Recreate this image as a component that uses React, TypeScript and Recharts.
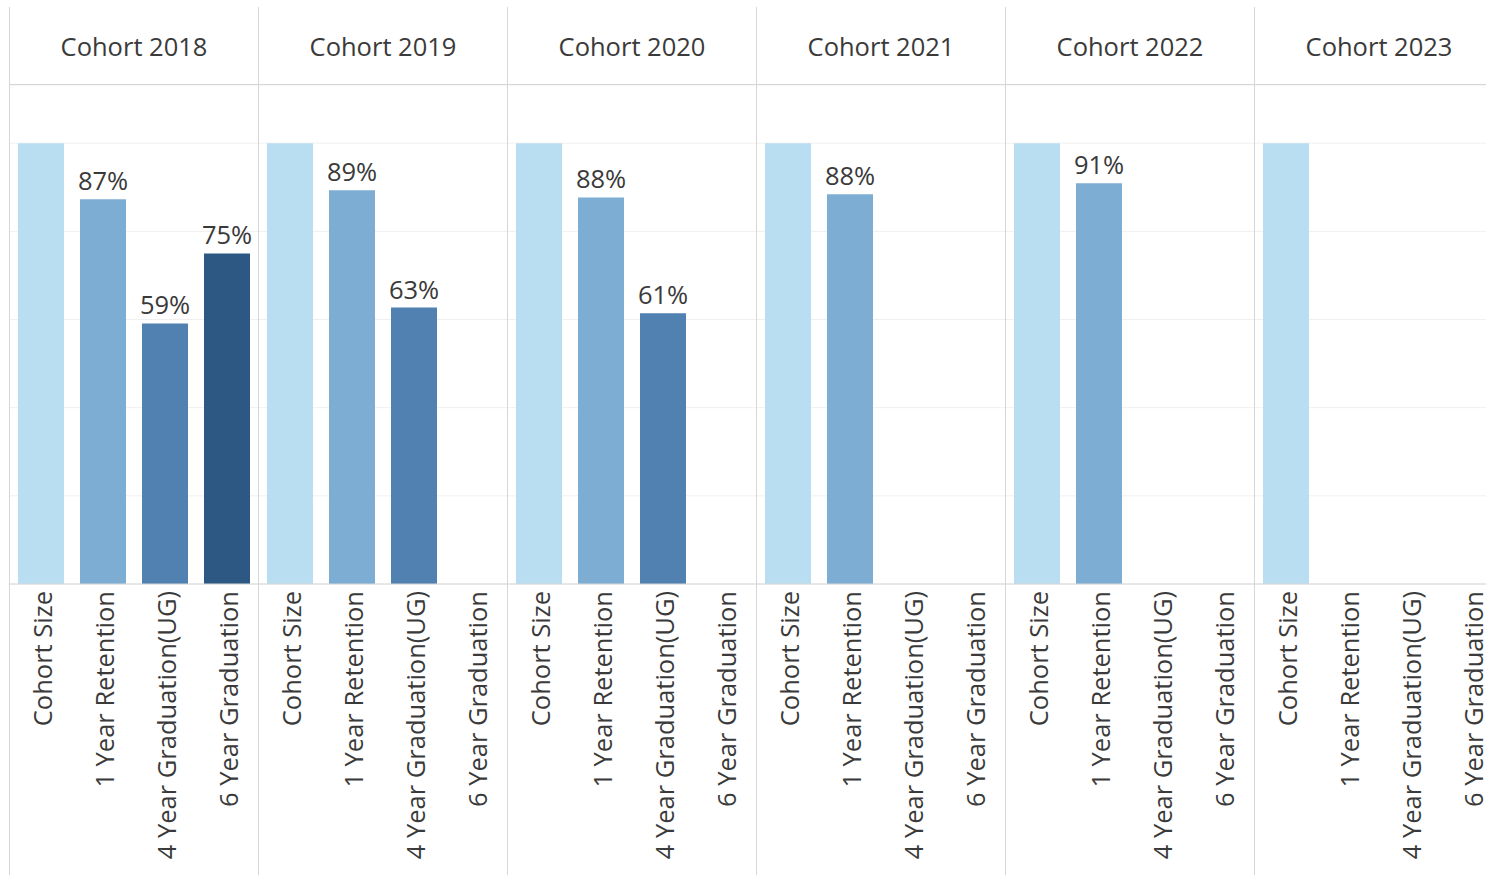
import { BarChart, Bar, XAxis, YAxis, CartesianGrid, Cell, LabelList } from "recharts";

const cohorts = ["Cohort 2018", "Cohort 2019", "Cohort 2020", "Cohort 2021", "Cohort 2022", "Cohort 2023"];
const metrics = ["Cohort Size", "1 Year Retention", "4 Year Graduation(UG)", "6 Year Graduation"];
const metricColors = ["#b9ddf1", "#7eadd4", "#5081b0", "#2c5883"];

// cohort size is shown as the 100% reference bar
const cohortSize = [1, 1, 1, 1, 1, 1];
const oneYearRetention = [0.873, 0.893, 0.877, 0.884, 0.909, null];
const fourYearGraduation = [0.591, 0.627, 0.614, null, null, null];
const sixYearGraduation = [0.75, null, null, null, null, null];
const yTicks = [0, 0.2, 0.4, 0.6, 0.8, 1];

const FONT = '"Open Sans", sans-serif';
const TEXT = "#3a3a3a";
const LINE = "#d6d6d6";

function pct(v: number | null, showLabel: boolean) {
  if (v == null || !showLabel) return "";
  return `${Math.round(v * 100)}%`;
}

function panelData(i: number) {
  const values = [cohortSize[i], oneYearRetention[i], fourYearGraduation[i], sixYearGraduation[i]];
  return metrics.map((metric, k) => ({
    metric,
    value: values[k],
    label: pct(values[k], k > 0),
    color: metricColors[k],
  }));
}

function AxisTick(props: any) {
  const { x, y, payload } = props;
  const ty = y - 1;
  return (
    <text
      x={x + 1}
      y={ty}
      transform={`rotate(-90, ${x + 1}, ${ty})`}
      textAnchor="end"
      dominantBaseline="central"
      fontFamily={FONT}
      fontSize={25.5}
      fill={TEXT}
    >
      {payload.value}
    </text>
  );
}

function Panel({ index }: { index: number }) {
  const data = panelData(index);
  return (
    <div style={{ width: 249, height: 869, boxSizing: "border-box", borderLeft: `1px solid ${LINE}`, flex: "none" }}>
      <div
        style={{
          height: 77,
          borderBottom: `1px solid ${LINE}`,
          display: "flex",
          alignItems: "center",
          justifyContent: "center",
          fontFamily: FONT,
          fontSize: 25.5,
          color: TEXT,
        }}
      >
        {cohorts[index]}
      </div>
      <BarChart
        width={248}
        height={791}
        data={data}
        margin={{ top: 0, right: 0, bottom: 0, left: 0 }}
        barCategoryGap={8}
      >
        <CartesianGrid vertical={false} stroke="#f0f0f0" />
        <YAxis hide domain={[0, 1.132]} ticks={yTicks} />
        <XAxis
          dataKey="metric"
          interval={0}
          height={292}
          tickLine={false}
          axisLine={{ stroke: LINE }}
          tick={<AxisTick />}
        />
        <Bar dataKey="value" isAnimationActive={false}>
          {data.map((d) => (
            <Cell key={d.metric} fill={d.color} />
          ))}
          <LabelList
            dataKey="label"
            position="top"
            offset={9}
            fontFamily={FONT}
            fontSize={25.5}
            fill={TEXT}
          />
        </Bar>
      </BarChart>
    </div>
  );
}

export default function App() {
  return (
    <div
      style={{
        position: "absolute",
        left: 0,
        top: 0,
        width: 1486,
        height: 875,
        overflow: "hidden",
        background: "#ffffff",
      }}
    >
      <div style={{ position: "absolute", left: 9, top: 7, display: "flex" }}>
        {cohorts.map((c, i) => (
          <Panel key={c} index={i} />
        ))}
      </div>
    </div>
  );
}
